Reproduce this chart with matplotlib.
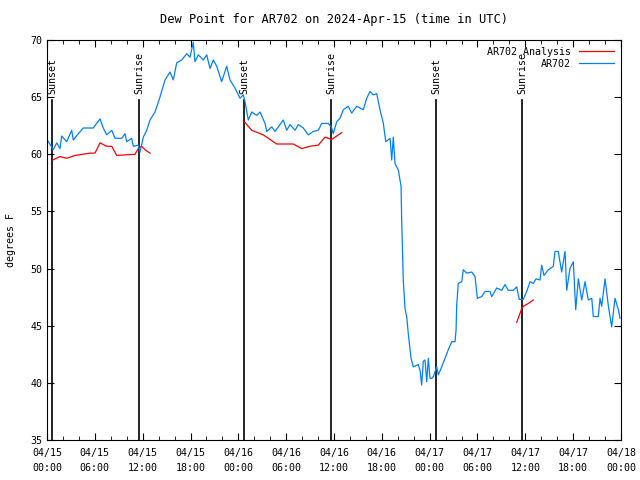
import numpy as np
import matplotlib
matplotlib.use("Agg")
import matplotlib.pyplot as plt
from matplotlib.ticker import MultipleLocator

# hours since 2024-04-15 00:00 UTC
obs_hours = [0.0, 0.79, 1.22, 1.63, 1.84, 2.47, 3.10, 3.30, 3.93, 4.55, 5.81, 6.65, 7.06, 7.49,
             8.12, 8.53, 9.37, 9.78, 10.0, 10.62, 10.83, 11.45, 11.67, 12.08, 12.51, 12.92,
             13.55, 14.17, 14.80, 15.43, 15.84, 16.27, 16.90, 17.52, 17.94, 18.35, 18.56,
             18.98, 19.61, 20.03, 20.45, 20.86, 21.29, 21.91, 22.54, 22.96, 23.58, 24.21,
             24.62, 24.84, 25.25, 25.68, 26.30, 26.72, 27.35, 27.56, 28.19, 28.60, 29.01,
             29.64, 30.07, 30.48, 31.11, 31.52, 32.15, 32.78, 33.40, 34.03, 34.46, 35.29,
             35.71, 35.91, 36.34, 36.75, 37.17, 37.79, 38.22, 38.85, 39.68, 40.10, 40.52,
             40.93, 41.36, 41.77, 42.19, 42.49, 43.03, 43.24, 43.44, 43.65, 44.07, 44.41,
             44.49, 44.69, 44.91, 45.12, 45.32, 45.66, 45.95, 46.57, 46.79, 47.00, 47.20,
             47.42, 47.63, 47.83, 48.04, 48.26, 48.46, 48.88, 49.09, 49.51, 49.92, 50.34,
             50.77, 51.18, 51.31, 51.39, 51.59, 52.02, 52.22, 52.65, 53.27, 53.69, 53.98,
             54.53, 54.94, 55.57, 55.78, 56.41, 57.04, 57.45, 57.86, 58.49, 58.92, 59.24,
             59.74, 60.17, 60.59, 61.00, 61.34, 61.84, 62.05, 62.34, 62.88, 63.51, 63.72,
             64.13, 64.56, 64.98, 65.19, 65.60, 66.02, 66.32, 66.65, 67.07, 67.49, 67.90,
             68.33, 68.53, 69.15, 69.37, 69.58, 70.00, 70.42, 70.83, 71.25, 71.67, 71.88]
obs_dewpt = [61.3, 60.4, 61.0, 60.5, 61.6, 61.1, 62.1, 61.25, 61.8, 62.3, 62.3, 63.1, 62.3, 61.7,
             62.1, 61.4, 61.4, 61.8, 61.1, 61.4, 60.7, 60.8, 60.2, 61.5, 62.1, 63.0,
             63.7, 65.0, 66.5, 67.2, 66.5, 68.0, 68.25, 68.8, 68.5, 69.8, 68.1,
             68.7, 68.25, 68.7, 67.5, 68.25, 67.7, 66.35, 67.7, 66.5, 65.8, 64.9,
             65.2, 64.6, 63.0, 63.7, 63.4, 63.7, 62.7, 62.0, 62.4, 62.0, 62.4,
             63.0, 62.1, 62.6, 62.1, 62.6, 62.3, 61.7, 62.0, 62.1, 62.7, 62.7,
             62.3, 61.8, 62.85, 63.15, 63.9, 64.2, 63.6, 64.2, 63.9, 64.9, 65.5,
             65.2, 65.3, 63.9, 62.7, 61.1, 61.4, 59.5, 61.5, 59.2, 58.6, 57.2,
             54.25, 49.0, 46.5, 45.8, 44.3, 42.15, 41.4, 41.6, 41.1, 39.8, 41.9,
             42.0, 40.1, 42.15, 40.4, 40.4, 40.55, 41.4, 40.7, 41.4, 42.15, 42.9,
             43.6, 43.6, 44.6, 46.8, 48.7, 48.85, 49.9, 49.6, 49.7, 49.3, 47.4,
             47.55, 48.0, 48.0, 47.55, 48.3, 48.1, 48.6, 48.1, 48.1, 48.4, 47.3,
             47.3, 48.0, 48.85, 48.7, 49.1, 49.0, 50.3, 49.4, 49.9, 50.2, 51.5,
             51.5, 49.7, 51.5, 48.1, 50.0, 50.6, 46.4, 49.1, 47.25, 48.85, 47.25,
             47.4, 45.8, 45.8, 47.4, 46.7, 49.1, 46.7, 44.9, 47.4, 46.4, 45.65]

ana1_hours = [0.72, 1.63, 2.47, 3.51, 5.39, 6.02, 6.65, 7.49, 8.12, 8.74, 11.04, 11.45, 11.88, 12.29, 12.92]
ana1_dewpt = [59.5, 59.8, 59.65, 59.9, 60.1, 60.1, 61.0, 60.7, 60.7, 59.9, 60.0, 60.5, 60.7, 60.4, 60.1]
ana2_hours = [24.75, 25.68, 27.13, 28.81, 30.90, 31.95, 32.99, 34.03, 34.87, 35.71, 36.97]
ana2_dewpt = [62.85, 62.1, 61.7, 60.9, 60.9, 60.5, 60.7, 60.8, 61.5, 61.3, 61.9]
ana3_hours = [58.92, 59.55, 59.75, 60.38, 61.0]
ana3_dewpt = [45.3, 46.5, 46.7, 46.95, 47.25]

sun_hours = [0.63, 11.54, 24.71, 35.62, 48.80, 59.58]
sun_labels = ["Sunset", "Sunrise", "Sunset", "Sunrise", "Sunset", "Sunrise"]

tick_hours = list(range(0, 73, 6))
tick_labels = ["04/15\n00:00", "04/15\n06:00", "04/15\n12:00", "04/15\n18:00",
               "04/16\n00:00", "04/16\n06:00", "04/16\n12:00", "04/16\n18:00",
               "04/17\n00:00", "04/17\n06:00", "04/17\n12:00", "04/17\n18:00",
               "04/18\n00:00"]

plt.rcParams['font.family'] = 'DejaVu Sans Mono'
plt.rcParams['font.size'] = 7.2

fig = plt.figure(figsize=(6.4, 4.8), dpi=100)
ax = fig.add_axes([47/640, 40/480, 574/640, 400/480])

for h, lab in zip(sun_hours, sun_labels):
    ax.plot([h, h], [35, 64.75], color='black', lw=1.2)
    ax.text(h, 65.3, lab, rotation=90, ha='center', va='bottom')

ax.plot(ana1_hours, ana1_dewpt, color='#ff0000', lw=0.9, label='AR702 Analysis')
ax.plot(ana2_hours, ana2_dewpt, color='#ff0000', lw=0.9)
ax.plot(ana3_hours, ana3_dewpt, color='#ff0000', lw=0.9)
ax.plot(obs_hours, obs_dewpt, color='#0080ff', lw=0.9, label='AR702')

ax.set_xlim(0, 72)
ax.set_ylim(35, 70)
ax.set_xticks(tick_hours)
ax.set_xticklabels(tick_labels, linespacing=1.6)
ax.xaxis.set_minor_locator(MultipleLocator(2))
ax.set_yticks(range(35, 71, 5))
ax.tick_params(which='both', direction='in', top=True, right=True)
ax.tick_params(which='major', length=5)
ax.tick_params(which='minor', length=3)
ax.tick_params(axis='x', pad=6)
ax.set_ylabel('degrees F', labelpad=10)
ax.set_title('Dew Point for AR702 on 2024-Apr-15 (time in UTC)', pad=12)

ax.legend(loc='upper right', frameon=False, markerfirst=False, handlelength=3.5,
          borderaxespad=0.3, labelspacing=0.2, handletextpad=0.8)

fig.savefig('out.png', dpi=100)
